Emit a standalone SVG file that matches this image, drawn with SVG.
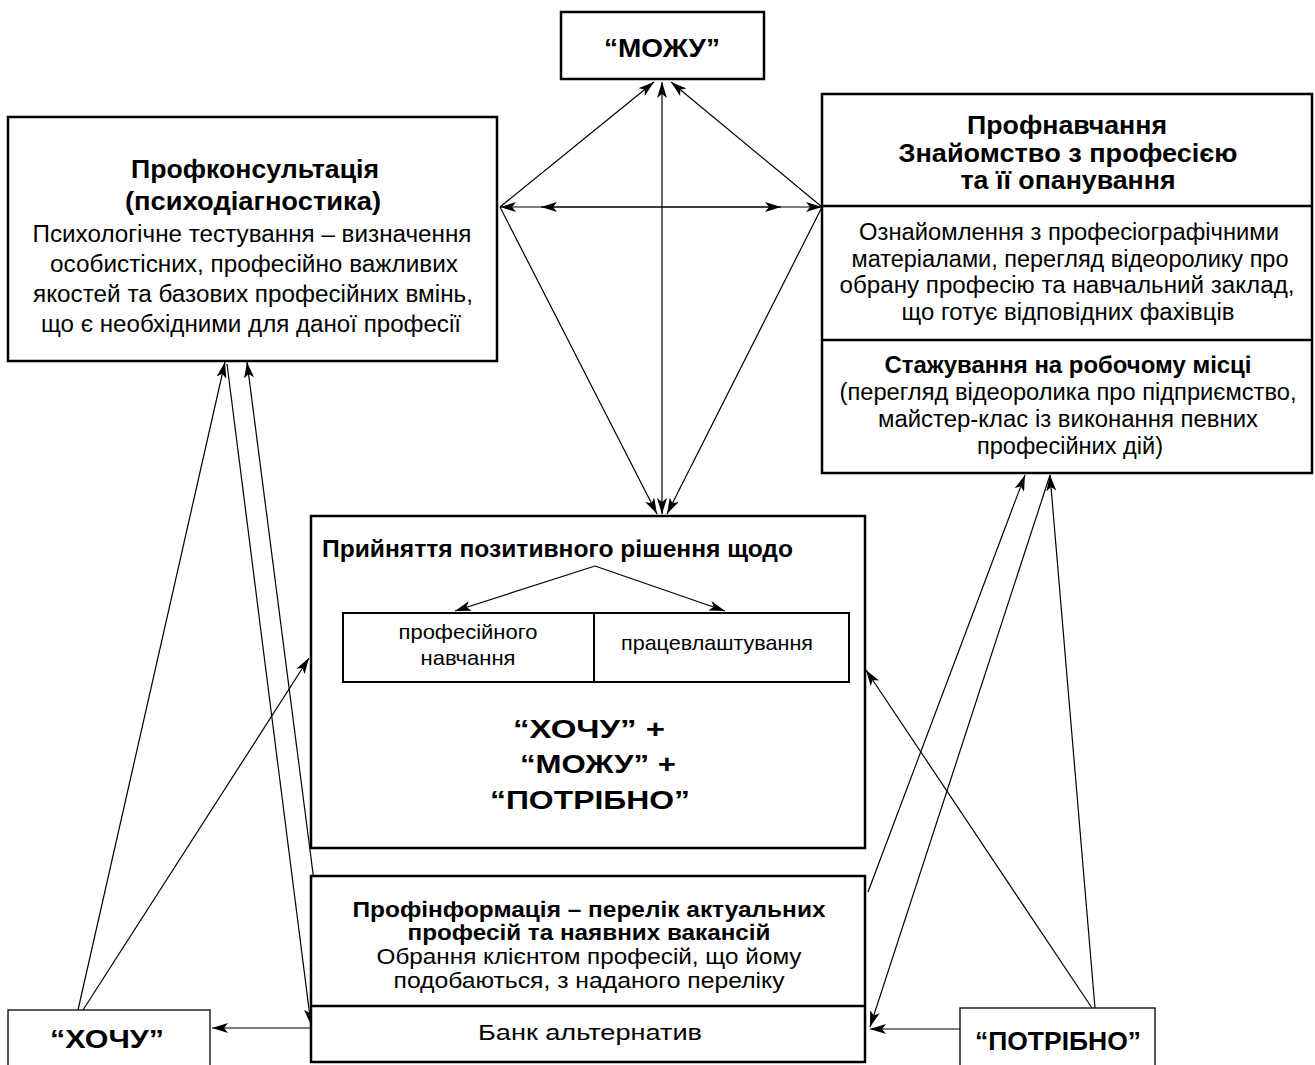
<svg xmlns="http://www.w3.org/2000/svg" width="1315" height="1065" viewBox="0 0 1315 1065">
<style>
.box{fill:#fff;stroke:#000;stroke-width:2.5}
.thin{fill:#fff;stroke:#000;stroke-width:1.3}
.div{stroke:#000;stroke-width:2.5}
.c{fill:none;stroke:#000;stroke-width:1.2;marker-end:url(#ah)}
.cb{fill:none;stroke:#000;stroke-width:1.2;marker-end:url(#ah);marker-start:url(#ah)}
text{font-family:"Liberation Sans",Arial,sans-serif;fill:#000;text-anchor:middle}
.b{font-weight:bold}
.n24{font-size:23.5px}
.b25{font-size:25px;font-weight:bold}
.b26{font-size:26px;font-weight:bold}
.s21{font-size:21px}
</style>
<defs>
<marker id="ah" viewBox="0 0 16 10" refX="16" refY="5" markerWidth="16" markerHeight="10" orient="auto-start-reverse" markerUnits="userSpaceOnUse">
<path d="M0,0 L16,5 L0,10 L4,5 z" fill="#000"/>
</marker>
</defs>

<g id="connectors">
<line class="c" x1="500" y1="207" x2="654" y2="82"/>
<line class="c" x1="822" y1="207" x2="671" y2="82"/>
<line class="cb" x1="662" y1="82" x2="662" y2="514"/>
<line class="cb" x1="500" y1="207" x2="822" y2="207"/>
<line class="cb" x1="541" y1="207" x2="781" y2="207"/>
<line class="c" x1="500" y1="207" x2="657" y2="514"/>
<line class="c" x1="822" y1="207" x2="667" y2="514"/>
<line class="c" x1="78" y1="1010" x2="225" y2="362"/>
<line class="c" x1="83" y1="1010" x2="309" y2="658"/>
<line class="c" x1="227" y1="364" x2="311" y2="1025"/>
<line class="c" x1="318" y1="912" x2="247" y2="362"/>
<line class="c" x1="310" y1="1028" x2="212" y2="1028"/>
<line class="c" x1="868" y1="892" x2="1025" y2="475"/>
<line class="c" x1="1050" y1="475" x2="870" y2="1027"/>
<line class="c" x1="1095" y1="1008" x2="1050" y2="475"/>
<line class="c" x1="1092" y1="1008" x2="866" y2="670"/>
<line class="c" x1="960" y1="1029" x2="870" y2="1029"/>
</g>

<g id="mozhu">
<rect class="box" x="561" y="12" width="203" height="67"/>
<text class="b26" x="662" y="57" textLength="116" lengthAdjust="spacingAndGlyphs">“МОЖУ”</text>
</g>

<g id="profkonsultatsiia">
<rect class="box" x="8" y="117" width="489" height="244"/>
<text class="b26" x="255" y="178" textLength="248" lengthAdjust="spacingAndGlyphs">Профконсультація</text>
<text class="b26" x="253" y="210" textLength="256" lengthAdjust="spacingAndGlyphs">(психодіагностика)</text>
<text class="n24" x="252" y="242" textLength="439" lengthAdjust="spacingAndGlyphs">Психологічне тестування – визначення</text>
<text class="n24" x="254" y="272" textLength="408" lengthAdjust="spacingAndGlyphs">особистісних, професійно важливих</text>
<text class="n24" x="253" y="302" textLength="440" lengthAdjust="spacingAndGlyphs">якостей та базових професійних вмінь,</text>
<text class="n24" x="251" y="332" textLength="420" lengthAdjust="spacingAndGlyphs">що є необхідними для даної професії</text>
</g>

<g id="profnavchannia">
<rect class="box" x="822" y="94" width="490" height="379"/>
<line class="div" x1="822" y1="206" x2="1312" y2="206"/>
<line class="div" x1="822" y1="340" x2="1312" y2="340"/>
<text class="b26" x="1067" y="134" textLength="200" lengthAdjust="spacingAndGlyphs">Профнавчання</text>
<text class="b26" x="1068" y="162" textLength="339" lengthAdjust="spacingAndGlyphs">Знайомство з професією</text>
<text class="b26" x="1068" y="189" textLength="215" lengthAdjust="spacingAndGlyphs">та її опанування</text>
<text class="n24" x="1069" y="240" textLength="420" lengthAdjust="spacingAndGlyphs">Ознайомлення з професіографічними</text>
<text class="n24" x="1070" y="267" textLength="437" lengthAdjust="spacingAndGlyphs">матеріалами, перегляд відеоролику про</text>
<text class="n24" x="1067" y="293" textLength="455" lengthAdjust="spacingAndGlyphs">обрану професію та навчальний заклад,</text>
<text class="n24" x="1068" y="320" textLength="333" lengthAdjust="spacingAndGlyphs">що готує відповідних фахівців</text>
<text class="b25" x="1068" y="373" style="font-size:23.5px" textLength="367" lengthAdjust="spacingAndGlyphs">Стажування на робочому місці</text>
<text class="n24" x="1068" y="400" textLength="457" lengthAdjust="spacingAndGlyphs">(перегляд відеоролика про підприємство,</text>
<text class="n24" x="1068" y="427" textLength="380" lengthAdjust="spacingAndGlyphs">майстер-клас із виконання певних</text>
<text class="n24" x="1070" y="454" textLength="186" lengthAdjust="spacingAndGlyphs">професійних дій)</text>
</g>

<g id="rishennia">
<rect class="box" x="311" y="516" width="554" height="332"/>
<text class="b" x="322" y="557" style="font-size:23px;text-anchor:start" textLength="471" lengthAdjust="spacingAndGlyphs">Прийняття позитивного рішення щодо</text>
<line class="c" x1="595" y1="566" x2="455" y2="611"/>
<line class="c" x1="595" y1="566" x2="725" y2="611"/>
<rect class="box" x="343" y="613" width="506" height="69" style="stroke-width:2"/>
<line class="div" x1="594" y1="613" x2="594" y2="682" style="stroke-width:2"/>
<text class="s21" x="468" y="639" textLength="139" lengthAdjust="spacingAndGlyphs">професійного</text>
<text class="s21" x="468" y="665" textLength="95" lengthAdjust="spacingAndGlyphs">навчання</text>
<text class="s21" x="717" y="650" textLength="192" lengthAdjust="spacingAndGlyphs">працевлаштування</text>
<text class="b26" x="589" y="738" textLength="152" lengthAdjust="spacingAndGlyphs">“ХОЧУ” +</text>
<text class="b26" x="598" y="773" textLength="156" lengthAdjust="spacingAndGlyphs">“МОЖУ” +</text>
<text class="b26" x="590" y="809" textLength="200" lengthAdjust="spacingAndGlyphs">“ПОТРІБНО”</text>
</g>

<g id="profinformatsiia">
<rect class="box" x="311" y="876" width="554" height="186"/>
<line class="div" x1="311" y1="1006" x2="865" y2="1006"/>
<text class="b" x="589" y="917" style="font-size:22.5px" textLength="473" lengthAdjust="spacingAndGlyphs">Профінформація – перелік актуальних</text>
<text class="b" x="589" y="940" style="font-size:22.5px" textLength="363" lengthAdjust="spacingAndGlyphs">професій та наявних вакансій</text>
<text x="589" y="964" style="font-size:22px" textLength="425" lengthAdjust="spacingAndGlyphs">Обрання клієнтом професій, що йому</text>
<text x="589" y="988" style="font-size:22px" textLength="391" lengthAdjust="spacingAndGlyphs">подобаються, з наданого переліку</text>
<text x="590" y="1040" style="font-size:22px" textLength="224" lengthAdjust="spacingAndGlyphs">Банк альтернатив</text>
</g>

<g id="khochu">
<rect class="thin" x="8" y="1010" width="202" height="60"/>
<text class="b26" x="107" y="1048" textLength="114" lengthAdjust="spacingAndGlyphs">“ХОЧУ”</text>
</g>

<g id="potribno">
<rect class="thin" x="960" y="1008" width="195" height="62"/>
<text class="b26" x="1058" y="1050" textLength="166" lengthAdjust="spacingAndGlyphs">“ПОТРІБНО”</text>
</g>
</svg>
